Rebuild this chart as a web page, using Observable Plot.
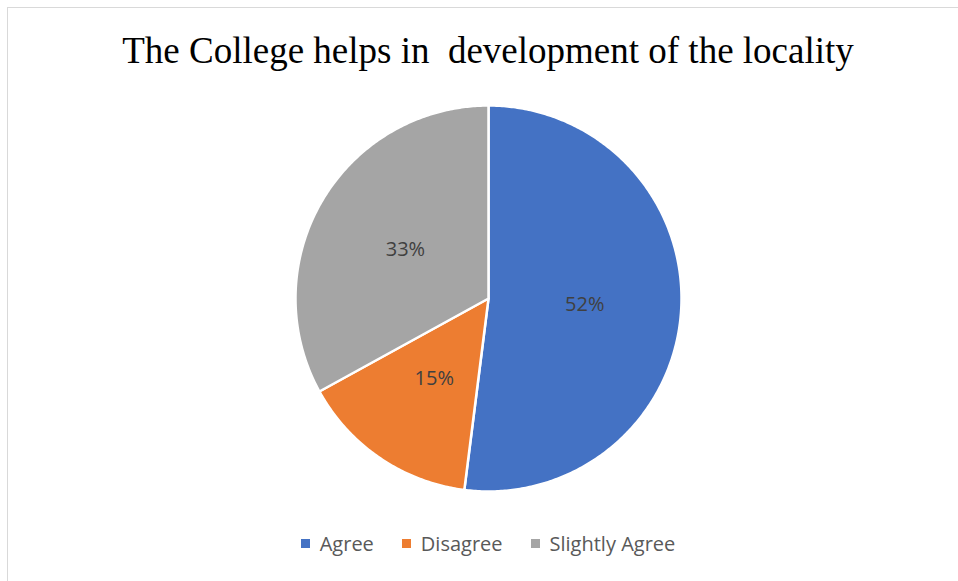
<!DOCTYPE html>
<html>
<head>
<meta charset="utf-8">
<script src="https://cdn.jsdelivr.net/npm/d3@7"></script>
<script src="https://cdn.jsdelivr.net/npm/@observablehq/plot@0.6"></script>
<style>
  html, body { margin: 0; padding: 0; background: #fff; }
  body { width: 958px; height: 581px; position: relative; overflow: hidden; }
  #frame { position: absolute; left: 7px; top: 7px; width: 960px; height: 600px;
           border-left: 1.5px solid #d9d9d9; border-top: 1.5px solid #d9d9d9; }
  #title { position: absolute; left: 0; width: 976px; top: 29px; text-align: center;
           font-family: "Liberation Serif", "Times New Roman", serif; font-size: 37px; color: #000; white-space: pre; }
  #chart { position: absolute; left: 0; top: 90px; }
  #legend { position: absolute; left: 0; width: 976px; top: 530px; display: flex; justify-content: center; gap: 28px;
            font-family: "Open Sans", sans-serif; font-size: 20px; color: #595959; }
  .item { display: flex; align-items: center; gap: 10px; }
  .sw { width: 9px; height: 9px; display: inline-block; }
</style>
</head>
<body>
<div id="frame"></div>
<div id="title">The College helps in  development of the locality</div>
<div id="chart"></div>
<div id="legend"></div>
<script>
const categories = ["Agree", "Disagree", "Slightly Agree"];
const values = [52, 15, 33];
const labels = ["52%", "15%", "33%"];
const colors = ["#4472C4", "#ED7D31", "#A5A5A5"];

const total = d3.sum(values);
const polys = [];
const labelPts = [];
let start = 0;
categories.forEach((c, i) => {
  const a0 = start / total * 2 * Math.PI;
  const a1 = (start + values[i]) / total * 2 * Math.PI;
  const n = Math.max(4, Math.ceil((a1 - a0) / 0.01));
  polys.push({category: c, x: 0, y: 0, order: 0});
  for (let k = 0; k <= n; k++) {
    const a = a0 + (a1 - a0) * k / n;
    polys.push({category: c, x: Math.sin(a), y: Math.cos(a), order: k + 1});
  }
  const am = (a0 + a1) / 2;
  labelPts.push({category: c, label: labels[i], x: 0.5 * Math.sin(am), y: 0.5 * Math.cos(am)});
  start += values[i];
});

const cx = 488, cy = 208, R = 193;
const chart = Plot.plot({
  width: 958,
  height: 420,
  margin: 0,
  x: {domain: [-1, 1], range: [cx - R, cx + R], axis: null},
  y: {domain: [-1, 1], range: [cy + R, cy - R], axis: null},
  color: {domain: categories, range: colors},
  marks: [
    Plot.line(polys, {x: "x", y: "y", z: "category", fill: "category", stroke: "white", strokeWidth: 2.5, curve: "linear-closed", strokeLinejoin: "round"}),
    Plot.text(labelPts, {x: "x", y: "y", text: "label", fill: "#404040", fontSize: 20, fontFamily: "Open Sans, sans-serif"})
  ]
});
document.getElementById("chart").appendChild(chart);

const legend = document.getElementById("legend");
categories.forEach((c, i) => {
  const it = document.createElement("div");
  it.className = "item";
  const sw = document.createElement("span");
  sw.className = "sw";
  sw.style.background = colors[i];
  const t = document.createElement("span");
  t.textContent = c;
  it.appendChild(sw); it.appendChild(t);
  legend.appendChild(it);
});
</script>
</body>
</html>
